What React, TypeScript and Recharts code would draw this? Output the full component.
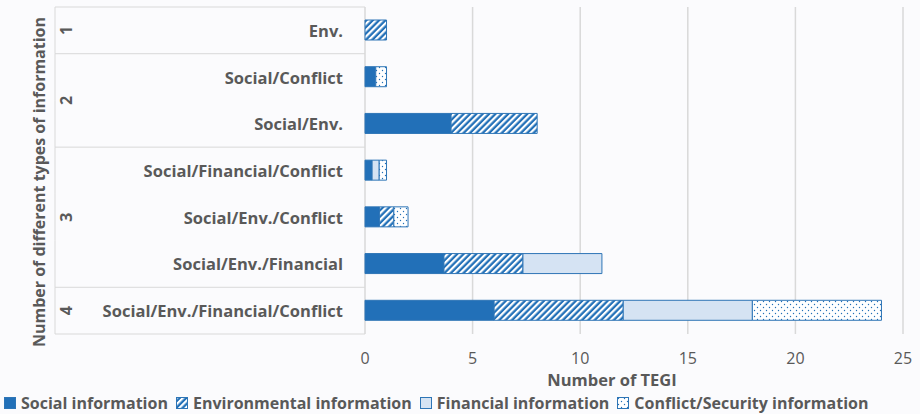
import React from "react";
import { BarChart, Bar, XAxis, YAxis, CartesianGrid } from "recharts";

// TEGI combinations, top to bottom
const categories = [
  "Env.",
  "Social/Conflict",
  "Social/Env.",
  "Social/Financial/Conflict",
  "Social/Env./Conflict",
  "Social/Env./Financial",
  "Social/Env./Financial/Conflict",
];
const groups = ["1", "2", "2", "3", "3", "3", "4"];

const social = [0, 0.5, 4, 0.33, 0.67, 3.67, 6];
const environmental = [1, 0, 4, 0, 0.67, 3.67, 6];
const financial = [0, 0, 0, 0.33, 0, 3.67, 6];
const conflict = [0, 0.5, 0, 0.34, 0.66, 0, 6];

const xTicks = [0, 5, 10, 15, 20, 25];

const FONT = "'Open Sans', 'Noto Sans', sans-serif";
const TEXT = "#595959";
const GRID = "#d9d9d9";
const BLUE = "#2270b8";
const EDGE = "#2e75b6";
const LIGHT = "#d5e3f3";

const W = 920;
const H = 414;
const MARGIN = { top: 7, right: 17, left: 0, bottom: 30 };
const X_AXIS_H = 50;
const Y_AXIS_W = 365;
const PLOT_H = H - MARGIN.top - MARGIN.bottom - X_AXIS_H;
const BAND = PLOT_H / categories.length;

const data = categories.map((name, i) => ({
  name,
  group: groups[i],
  social: social[i],
  environmental: environmental[i],
  financial: financial[i],
  conflict: conflict[i],
}));

// category tick + the group boxes of the two-level axis
const CategoryTick = (props: any) => {
  const { y, payload, index } = props;
  const i = index ?? payload.index;
  const g = groups[i];
  const first = i === 0 || groups[i - 1] !== g;
  const last = i === groups.length - 1;
  const size = groups.filter((x) => x === g).length;
  const top = y - BAND / 2;
  return (
    <g>
      <text
        x={343}
        y={y}
        textAnchor="end"
        dominantBaseline="central"
        fill={TEXT}
        fontFamily={FONT}
        fontWeight={700}
        fontSize={16.5}
      >
        {payload.value}
      </text>
      <line x1={55} x2={55} y1={top} y2={top + BAND} stroke={GRID} />
      {first && <line x1={55} x2={365} y1={top} y2={top} stroke={GRID} />}
      {last && <line x1={55} x2={365} y1={top + BAND} y2={top + BAND} stroke={GRID} />}
      {first && (
        <text
          transform={`translate(66, ${top + (size * BAND) / 2}) rotate(-90)`}
          textAnchor="middle"
          dominantBaseline="central"
          fill={TEXT}
          fontFamily={FONT}
          fontWeight={700}
          fontSize={16}
        >
          {g}
        </text>
      )}
    </g>
  );
};

const legendItems = [
  { label: "Social information", fill: BLUE },
  { label: "Environmental information", fill: "url(#envPattern)" },
  { label: "Financial information", fill: LIGHT },
  { label: "Conflict/Security information", fill: "url(#conflictPattern)" },
];

export default function App() {
  return (
    <div
      style={{
        position: "fixed",
        left: 0,
        top: 0,
        width: W,
        height: H,
        background: "#fbfbfd",
      }}
    >
      <BarChart
        width={W}
        height={H}
        data={data}
        layout="vertical"
        margin={MARGIN}
        barSize={20}
      >
        <defs>
          <pattern
            id="envPattern"
            patternUnits="userSpaceOnUse"
            width={4.5}
            height={4.5}
            patternTransform="rotate(45)"
          >
            <rect width={4.5} height={4.5} fill={BLUE} />
            <rect width={2.2} height={4.5} fill="#ffffff" />
          </pattern>
          <pattern id="conflictPattern" patternUnits="userSpaceOnUse" width={6} height={6}>
            <rect width={6} height={6} fill="#ffffff" />
            <circle cx={1.5} cy={1.5} r={0.7} fill={BLUE} />
            <circle cx={4.5} cy={4.5} r={0.7} fill={BLUE} />
          </pattern>
        </defs>
        <CartesianGrid horizontal={false} stroke={GRID} strokeWidth={1.5} />
        <XAxis
          type="number"
          domain={[0, 25]}
          ticks={xTicks}
          height={X_AXIS_H}
          axisLine={false}
          tickLine={false}
          tickMargin={13}
          tick={{ fill: TEXT, fontSize: 16, fontFamily: FONT }}
          label={{
            value: "Number of TEGI",
            position: "insideBottom",
            offset: -2,
            dx: -22,
            fill: TEXT,
            fontSize: 16.5,
            fontWeight: 700,
            fontFamily: FONT,
          }}
        />
        <YAxis
          type="category"
          dataKey="name"
          width={Y_AXIS_W}
          axisLine={false}
          tickLine={false}
          interval={0}
          tick={<CategoryTick />}
        />
        <Bar dataKey="social" stackId="a" fill={BLUE} stroke={EDGE} isAnimationActive={false} />
        <Bar dataKey="environmental" stackId="a" fill="url(#envPattern)" stroke={EDGE} isAnimationActive={false} />
        <Bar dataKey="financial" stackId="a" fill={LIGHT} stroke={EDGE} isAnimationActive={false} />
        <Bar dataKey="conflict" stackId="a" fill="url(#conflictPattern)" stroke={EDGE} isAnimationActive={false} />
        <text
          transform="translate(39, 182) rotate(-90)"
          textAnchor="middle"
          dominantBaseline="central"
          fill={TEXT}
          fontFamily={FONT}
          fontWeight={700}
          fontSize={16}
        >
          Number of different types of  information
        </text>
      </BarChart>
      <div
        style={{
          position: "absolute",
          left: 4,
          top: 392,
          display: "flex",
          alignItems: "center",
          fontFamily: FONT,
          fontWeight: 700,
          fontSize: 16,
          color: TEXT,
          whiteSpace: "nowrap",
        }}
      >
        {legendItems.map((item) => (
          <div key={item.label} style={{ display: "flex", alignItems: "center", marginRight: 8 }}>
            <svg width={12} height={12} style={{ marginRight: 5 }}>
              <rect x={0.5} y={0.5} width={11} height={11} fill={item.fill} stroke={EDGE} />
            </svg>
            <span>{item.label}</span>
          </div>
        ))}
      </div>
    </div>
  );
}
